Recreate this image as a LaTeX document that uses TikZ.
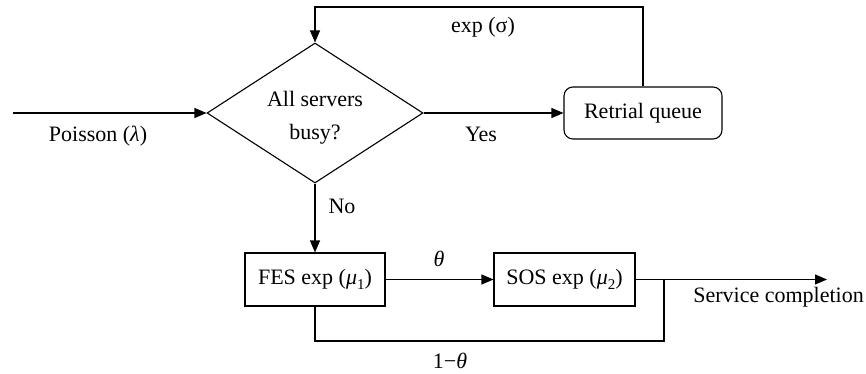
\documentclass[tikz,border=0pt]{standalone}
\usepackage{fontspec}
\setmainfont{Liberation Serif}
\usetikzlibrary{arrows.meta,shapes.geometric}
% small lowered index for the service rates
\newcommand\lowidx[1]{\raisebox{-0.22em}{\fontsize{15}{15}\selectfont #1}}
\begin{document}
\begin{tikzpicture}[x=1pt,y=-1pt,
  every node/.style={font=\fontsize{22}{26}\selectfont},
  flow/.style={line width=1.1pt, -{Triangle[length=12pt,width=10pt]}},
  wire/.style={line width=1.1pt},
  stage/.style={draw, line width=1.1pt, minimum width=140pt, minimum height=53pt, inner sep=0pt},
  lbl/.style={anchor=base, inner sep=0pt}]
\useasboundingbox (0,0) rectangle (866,374);

% decision and boxes
\node[draw, diamond, line width=1.1pt, minimum width=216pt, minimum height=140pt,
      inner sep=0pt] (busy) at (315,113) {};
\node[lbl] (ask1) at (315,107) {All servers};
\node[lbl] (ask2) at (315,140) {busy?};
\node[draw, rounded corners=9pt, line width=1.1pt, minimum width=158pt,
      minimum height=52pt, inner sep=0pt] (retry) at (643,113) {Retrial queue};
\node[stage] (fes) at (315,279.5) {FES exp (\textit{μ}\lowidx{1})};
\node[stage, minimum width=141pt] (sos) at (564.5,279.5) {SOS exp (\textit{μ}\lowidx{2})};

% free ends and bends
\coordinate (src) at (13,113);
\coordinate (sink) at (827,279.5);
\coordinate (join) at (664,279.5);
\coordinate (top) at (0,7);
\coordinate (bottom) at (0,341);

% connectors
\draw[flow] (src) -- (busy.west);
\draw[flow] (busy.east) -- (retry.west);
\draw[flow] (retry.north) -- (retry.north |- top) -| (busy.north);
\draw[flow] (busy.south) -- (fes.north);
\draw[flow] (fes.east) -- (sos.west);
\draw[flow] (sos.east) -- (sink);
\draw[wire] (fes.south) -- (fes.south |- bottom) -| (join);

% labels
\node[lbl] (poisson) at (98,142) {Poisson (\textit{λ})};
\node[lbl] (sigma) at (483,33) {exp (σ)};
\node[lbl] (yes) at (481,142) {Yes};
\node[lbl] (no) at (342,213) {No};
\node[lbl] (theta) at (439,266) {\textit{θ}};
\node[lbl] (notheta) at (450,368) {1−\textit{θ}};
\node[lbl, anchor=base east] (done) at (864,302) {Service completion};
\end{tikzpicture}
\end{document}
